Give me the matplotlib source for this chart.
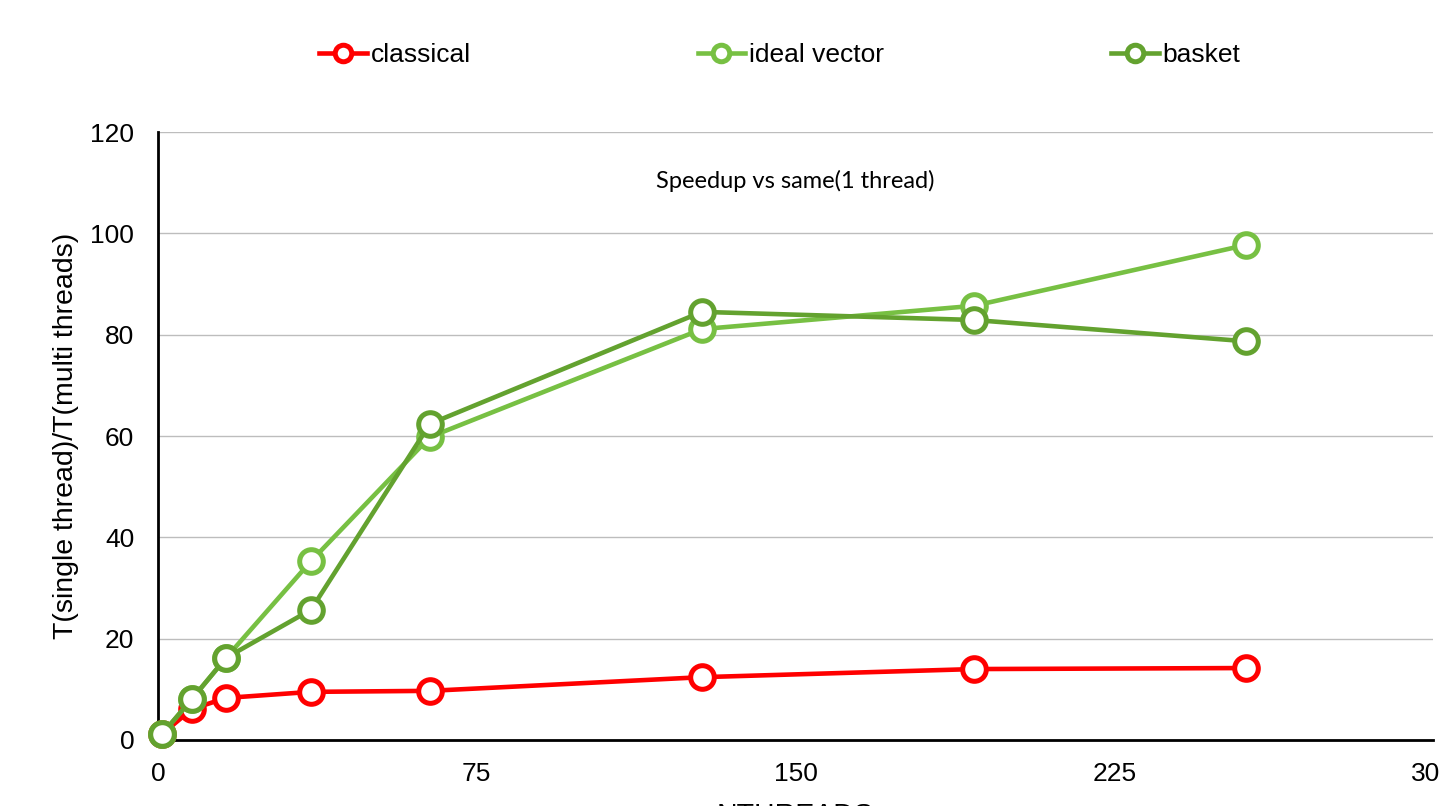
import matplotlib
matplotlib.use("Agg")
import matplotlib.pyplot as plt

# thread counts and speedups
nthreads = [1, 8, 16, 36, 64, 128, 192, 256]
classical = [1.2, 6.1, 8.3, 9.5, 9.7, 12.4, 14.0, 14.2]
ideal_vector = [1.2, 8.1, 16.2, 35.3, 59.8, 81.1, 85.7, 97.7]
basket = [1.2, 8.1, 16.2, 25.7, 62.4, 84.5, 82.9, 78.7]

x_ticks = [0, 75, 150, 225, 300]
y_ticks = [0, 20, 40, 60, 80, 100, 120]

plt.rcParams["font.family"] = ["Liberation Sans", "DejaVu Sans"]

fig = plt.figure(figsize=(14.4, 8.06), dpi=100)
ax = fig.add_axes([0.1097, 0.0819, 0.8854, 0.7543])

style = dict(linewidth=3.3, marker="o", markersize=17, markerfacecolor="white",
             markeredgewidth=3.6, clip_on=False)
ax.plot(nthreads, classical, color="#ff0000", label="classical", zorder=3, **style)
ax.plot(nthreads, ideal_vector, color="#77c043", label="ideal vector", zorder=4, **style)
ax.plot(nthreads, basket, color="#63a22f", label="basket", zorder=5, **style)

ax.set_xlim(0, 300)
ax.set_ylim(0, 120)
ax.set_xticks(x_ticks)
ax.set_yticks(y_ticks)
ax.tick_params(axis="both", length=0, labelsize=19)
ax.tick_params(axis="y", pad=17)
ax.tick_params(axis="x", pad=16)
ax.yaxis.grid(True, color="#bdbdbd", linewidth=1)
ax.set_axisbelow(True)
for s in ["top", "right"]:
    ax.spines[s].set_visible(False)
for s in ["left", "bottom"]:
    ax.spines[s].set_linewidth(2)
    ax.spines[s].set_color("black")

ax.set_ylabel("T(single thread)/T(multi threads)", fontsize=20.5, labelpad=8)
ax.set_xlabel("NTHREADS", fontsize=20.5, labelpad=12)

ax.text(0.5, 0.92, "Speedup vs same(1 thread)", transform=ax.transAxes,
        ha="center", va="center", fontsize=17, family=["Lato", "DejaVu Sans"])

fig.legend(loc="center", bbox_to_anchor=(0.5415, 0.932), ncol=3, frameon=False,
           fontsize=19, handlelength=1.8, handletextpad=0.15, columnspacing=8.6,
           markerscale=0.7)

fig.savefig("out.png", dpi=100)
